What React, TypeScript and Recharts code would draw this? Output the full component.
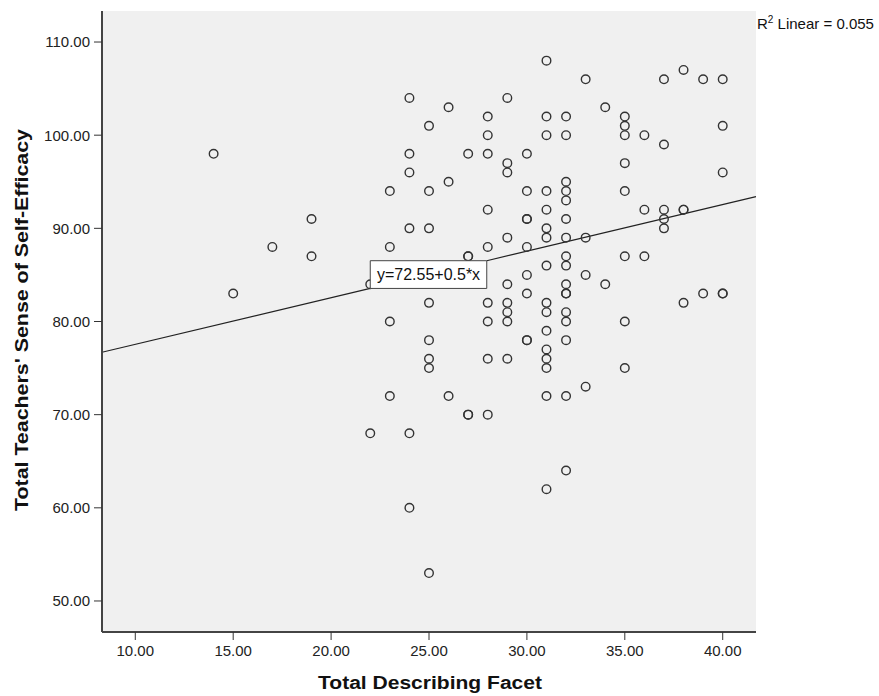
import {
  ScatterChart,
  Scatter,
  XAxis,
  YAxis,
  CartesianGrid,
  ReferenceLine,
  ReferenceArea,
  Label,
} from "recharts";

// Total Describing Facet (x) and the Self-Efficacy scores seen at each x
const describingScores = [14, 15, 17, 19, 22, 23, 24, 25, 26, 27, 28, 29, 30, 31, 32, 33, 34, 35, 36, 37, 38, 39, 40];
const efficacyScores = [
  [98],
  [83],
  [88],
  [91, 87],
  [84, 68],
  [94, 88, 80, 72],
  [104, 98, 96, 90, 68, 60],
  [101, 94, 90, 82, 78, 76, 75, 53],
  [103, 95, 72],
  [98, 87, 87, 70, 70],
  [102, 100, 98, 92, 88, 82, 80, 76, 70],
  [104, 97, 96, 89, 84, 82, 81, 80, 76],
  [98, 94, 91, 91, 88, 85, 83, 78, 78],
  [108, 102, 100, 94, 92, 90, 89, 86, 82, 81, 79, 77, 76, 75, 72, 62],
  [102, 100, 95, 94, 93, 91, 89, 87, 86, 84, 83, 83, 81, 80, 78, 72, 64],
  [106, 89, 85, 73],
  [103, 84],
  [102, 101, 100, 97, 94, 87, 80, 75],
  [100, 92, 87],
  [106, 99, 92, 91, 90],
  [107, 92, 92, 82],
  [106, 83],
  [106, 101, 96, 83, 83],
];

const xTicks = [10, 15, 20, 25, 30, 35, 40];
const yTicks = [50, 60, 70, 80, 90, 100, 110];

const intercept = 72.55;
const slope = 0.5;
const rSquared = "0.055";

const xDomain: [number, number] = [8.3, 41.7];
const yDomain: [number, number] = [46.67, 113.33];

const points = describingScores.flatMap((x, i) =>
  efficacyScores[i].map((y) => ({ x, y }))
);

const fit = (x: number) => intercept + slope * x;

// equation label sits on the fit line, its corners touching it
const boxX = [22, 27.95];

// fit line drawn in two pieces, the label box hides the middle
const fitLeft = [
  { x: xDomain[0], y: fit(xDomain[0]) },
  { x: boxX[0], y: fit(boxX[0]) },
];
const fitRight = [
  { x: boxX[1], y: fit(boxX[1]) },
  { x: xDomain[1], y: fit(xDomain[1]) },
];

const FONT = "'Liberation Sans', Arial, sans-serif";

const Ring = (props: any) => (
  <circle cx={props.cx} cy={props.cy} r={4.3} fill="none" stroke="#333" strokeWidth={1.4} />
);

export default function App() {
  return (
    <div style={{ position: "absolute", left: 0, top: 0, width: 879, height: 696, background: "#fff" }}>
      <ScatterChart width={879} height={696} margin={{ top: 11, right: 123, bottom: 0, left: 0 }}>
        <CartesianGrid fill="#F0F0F0" stroke="none" horizontal={false} vertical={false} />
        <XAxis
          type="number"
          dataKey="x"
          domain={xDomain}
          ticks={xTicks}
          allowDataOverflow
          tickFormatter={(v) => v.toFixed(2)}
          height={64}
          tickSize={8}
          tickMargin={5}
          axisLine={{ stroke: "#444", strokeWidth: 2 }}
          tickLine={{ stroke: "#333" }}
          tick={{ fontSize: 15, fill: "#222", fontFamily: FONT }}
        >
          <Label
            content={() => (
              <text
                x={430}
                y={689}
                textAnchor="middle"
                fontFamily={FONT}
                fontWeight="bold"
                fontSize={18}
                textLength={224}
                lengthAdjust="spacingAndGlyphs"
                fill="#111"
              >
                Total Describing Facet
              </text>
            )}
          />
        </XAxis>
        <XAxis xAxisId="top" orientation="top" type="number" domain={xDomain} height={0} tick={false} tickLine={false} axisLine={{ stroke: "#888", strokeWidth: 2 }} />
        <YAxis
          type="number"
          dataKey="y"
          domain={yDomain}
          ticks={yTicks}
          allowDataOverflow
          tickFormatter={(v) => v.toFixed(2)}
          width={102}
          tickSize={8}
          tickMargin={4}
          axisLine={{ stroke: "#444", strokeWidth: 2 }}
          tickLine={{ stroke: "#333" }}
          tick={{ fontSize: 15, fill: "#222", fontFamily: FONT }}
        >
          <Label
            content={() => (
              <text
                x={28}
                y={320}
                transform="rotate(-90, 28, 320)"
                textAnchor="middle"
                fontFamily={FONT}
                fontWeight="bold"
                fontSize={18}
                textLength={382}
                lengthAdjust="spacingAndGlyphs"
                fill="#111"
              >
                Total Teachers' Sense of Self-Efficacy
              </text>
            )}
          />
        </YAxis>
        <YAxis yAxisId="right" orientation="right" type="number" domain={yDomain} width={0} tick={false} tickLine={false} axisLine={{ stroke: "#888", strokeWidth: 2 }} />
        <Scatter data={points} shape={<Ring />} isAnimationActive={false} />
        <ReferenceLine segment={fitLeft} stroke="#222" strokeWidth={1.2} />
        <ReferenceLine segment={fitRight} stroke="#222" strokeWidth={1.2} />
        <ReferenceArea
          x1={boxX[0]}
          x2={boxX[1]}
          y1={fit(boxX[0])}
          y2={fit(boxX[1])}
          fill="#fff"
          fillOpacity={1}
          stroke="#444"
          strokeWidth={1}
          zIndex={800}
          label={{ value: `y=${intercept}+${slope}*x`, position: "center", fontSize: 16, fill: "#111", fontFamily: FONT }}
        />
      </ScatterChart>
      <div
        style={{
          position: "absolute",
          left: 757,
          top: 16,
          fontFamily: FONT,
          fontSize: 15,
          lineHeight: "16px",
          color: "#111",
          whiteSpace: "nowrap",
        }}
      >
        R<sup style={{ fontSize: 10, lineHeight: 0 }}>2</sup> Linear = {rSquared}
      </div>
    </div>
  );
}
